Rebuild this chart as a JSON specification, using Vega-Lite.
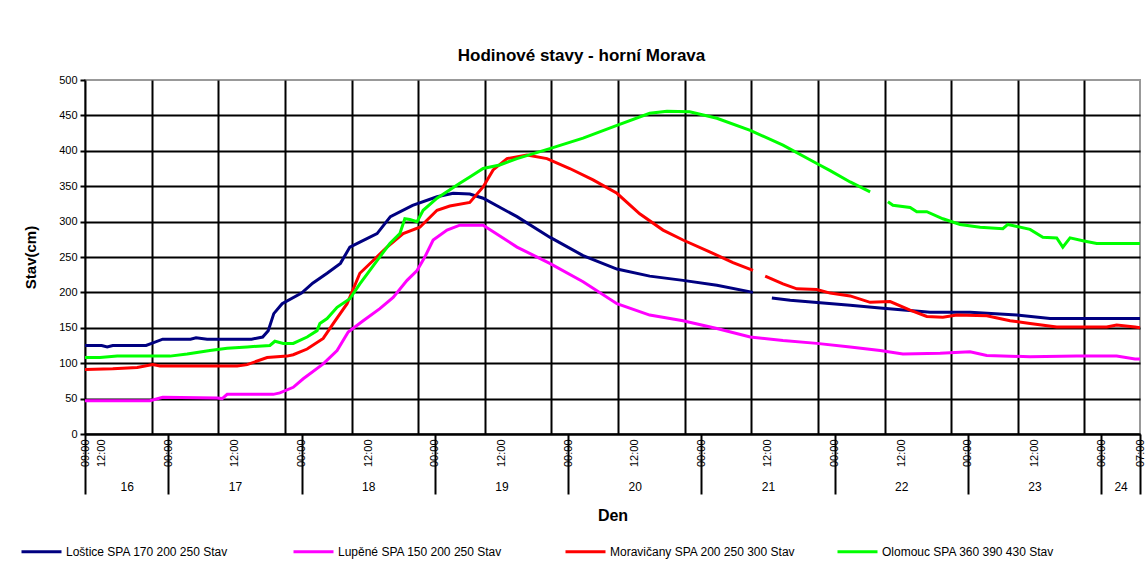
{
  "$schema": "https://vega.github.io/schema/vega-lite/v6.json",
  "width": 1055,
  "height": 354,
  "autosize": {"type": "none"},
  "padding": {"left": 85, "top": 80, "right": 7, "bottom": 149},
  "background": "white",
  "config": {
    "font": "Liberation Sans",
    "view": {"stroke": "#999999", "strokeWidth": 2},
    "axis": {"labelColor": "#000000", "titleColor": "#000000", "labelFont": "Liberation Sans", "titleFont": "Liberation Sans"}
  },
  "title": {"text": "Hodinové stavy - horní Morava", "font": "Liberation Sans", "fontSize": 17, "fontWeight": "bold", "color": "#000000", "anchor": "middle", "offset": 9, "dx": -31},
  "datasets": {
    "days": [
      {"day": "16", "mid": 16.5}, {"day": "17", "mid": 36}, {"day": "18", "mid": 60},
      {"day": "19", "mid": 84}, {"day": "20", "mid": 108}, {"day": "21", "mid": 132},
      {"day": "22", "mid": 156}, {"day": "23", "mid": 180}, {"day": "24", "mid": 195.5}
    ],
    "levels": [
      {"s": "Loštice SPA 170 200 250 Stav", "t": 9, "v": 125},
      {"s": "Loštice SPA 170 200 250 Stav", "t": 12, "v": 125},
      {"s": "Loštice SPA 170 200 250 Stav", "t": 13, "v": 123},
      {"s": "Loštice SPA 170 200 250 Stav", "t": 14, "v": 125},
      {"s": "Loštice SPA 170 200 250 Stav", "t": 20, "v": 125},
      {"s": "Loštice SPA 170 200 250 Stav", "t": 21, "v": 128},
      {"s": "Loštice SPA 170 200 250 Stav", "t": 23, "v": 134},
      {"s": "Loštice SPA 170 200 250 Stav", "t": 28, "v": 134},
      {"s": "Loštice SPA 170 200 250 Stav", "t": 29, "v": 136},
      {"s": "Loštice SPA 170 200 250 Stav", "t": 31, "v": 134},
      {"s": "Loštice SPA 170 200 250 Stav", "t": 39, "v": 134},
      {"s": "Loštice SPA 170 200 250 Stav", "t": 41, "v": 137},
      {"s": "Loštice SPA 170 200 250 Stav", "t": 42, "v": 146},
      {"s": "Loštice SPA 170 200 250 Stav", "t": 43, "v": 170},
      {"s": "Loštice SPA 170 200 250 Stav", "t": 44.5, "v": 184},
      {"s": "Loštice SPA 170 200 250 Stav", "t": 48, "v": 199},
      {"s": "Loštice SPA 170 200 250 Stav", "t": 50, "v": 213},
      {"s": "Loštice SPA 170 200 250 Stav", "t": 52.6, "v": 227},
      {"s": "Loštice SPA 170 200 250 Stav", "t": 55, "v": 241},
      {"s": "Loštice SPA 170 200 250 Stav", "t": 56.7, "v": 264},
      {"s": "Loštice SPA 170 200 250 Stav", "t": 58.5, "v": 271},
      {"s": "Loštice SPA 170 200 250 Stav", "t": 61.6, "v": 283},
      {"s": "Loštice SPA 170 200 250 Stav", "t": 64, "v": 307},
      {"s": "Loštice SPA 170 200 250 Stav", "t": 68, "v": 323},
      {"s": "Loštice SPA 170 200 250 Stav", "t": 72.4, "v": 335},
      {"s": "Loštice SPA 170 200 250 Stav", "t": 75.3, "v": 340},
      {"s": "Loštice SPA 170 200 250 Stav", "t": 78.3, "v": 339},
      {"s": "Loštice SPA 170 200 250 Stav", "t": 80.7, "v": 333},
      {"s": "Loštice SPA 170 200 250 Stav", "t": 86.8, "v": 307},
      {"s": "Loštice SPA 170 200 250 Stav", "t": 92.7, "v": 278},
      {"s": "Loštice SPA 170 200 250 Stav", "t": 98.7, "v": 252},
      {"s": "Loštice SPA 170 200 250 Stav", "t": 104.8, "v": 233},
      {"s": "Loštice SPA 170 200 250 Stav", "t": 110.7, "v": 223},
      {"s": "Loštice SPA 170 200 250 Stav", "t": 116.7, "v": 217},
      {"s": "Loštice SPA 170 200 250 Stav", "t": 122.8, "v": 210},
      {"s": "Loštice SPA 170 200 250 Stav", "t": 129.3, "v": 200},
      {"s": "Loštice SPA 170 200 250 Stav", "t": 131, "v": null},
      {"s": "Loštice SPA 170 200 250 Stav", "t": 132.7, "v": 192},
      {"s": "Loštice SPA 170 200 250 Stav", "t": 136, "v": 189},
      {"s": "Loštice SPA 170 200 250 Stav", "t": 146.8, "v": 182},
      {"s": "Loštice SPA 170 200 250 Stav", "t": 152.2, "v": 178},
      {"s": "Loštice SPA 170 200 250 Stav", "t": 161.2, "v": 172},
      {"s": "Loštice SPA 170 200 250 Stav", "t": 168.4, "v": 172},
      {"s": "Loštice SPA 170 200 250 Stav", "t": 176.8, "v": 168},
      {"s": "Loštice SPA 170 200 250 Stav", "t": 182.8, "v": 163},
      {"s": "Loštice SPA 170 200 250 Stav", "t": 199, "v": 163},

      {"s": "Lupěné SPA 150 200 250 Stav", "t": 9, "v": 47},
      {"s": "Lupěné SPA 150 200 250 Stav", "t": 20.7, "v": 47},
      {"s": "Lupěné SPA 150 200 250 Stav", "t": 23, "v": 52},
      {"s": "Lupěné SPA 150 200 250 Stav", "t": 32.8, "v": 51},
      {"s": "Lupěné SPA 150 200 250 Stav", "t": 33.7, "v": 50},
      {"s": "Lupěné SPA 150 200 250 Stav", "t": 34.6, "v": 56},
      {"s": "Lupěné SPA 150 200 250 Stav", "t": 42.9, "v": 56},
      {"s": "Lupěné SPA 150 200 250 Stav", "t": 44.1, "v": 58},
      {"s": "Lupěné SPA 150 200 250 Stav", "t": 46.5, "v": 66},
      {"s": "Lupěné SPA 150 200 250 Stav", "t": 48.3, "v": 78},
      {"s": "Lupěné SPA 150 200 250 Stav", "t": 51.9, "v": 99},
      {"s": "Lupěné SPA 150 200 250 Stav", "t": 54.4, "v": 118},
      {"s": "Lupěné SPA 150 200 250 Stav", "t": 56.4, "v": 144},
      {"s": "Lupěné SPA 150 200 250 Stav", "t": 59.1, "v": 160},
      {"s": "Lupěné SPA 150 200 250 Stav", "t": 62.1, "v": 177},
      {"s": "Lupěné SPA 150 200 250 Stav", "t": 64.5, "v": 193},
      {"s": "Lupěné SPA 150 200 250 Stav", "t": 67, "v": 217},
      {"s": "Lupěné SPA 150 200 250 Stav", "t": 68.8, "v": 231},
      {"s": "Lupěné SPA 150 200 250 Stav", "t": 70.2, "v": 250},
      {"s": "Lupěné SPA 150 200 250 Stav", "t": 71.7, "v": 274},
      {"s": "Lupěné SPA 150 200 250 Stav", "t": 74.2, "v": 288},
      {"s": "Lupěné SPA 150 200 250 Stav", "t": 76.5, "v": 295},
      {"s": "Lupěné SPA 150 200 250 Stav", "t": 80.7, "v": 295},
      {"s": "Lupěné SPA 150 200 250 Stav", "t": 86.8, "v": 264},
      {"s": "Lupěné SPA 150 200 250 Stav", "t": 92.7, "v": 241},
      {"s": "Lupěné SPA 150 200 250 Stav", "t": 98.7, "v": 215},
      {"s": "Lupěné SPA 150 200 250 Stav", "t": 104.8, "v": 184},
      {"s": "Lupěné SPA 150 200 250 Stav", "t": 110.7, "v": 168},
      {"s": "Lupěné SPA 150 200 250 Stav", "t": 116.7, "v": 160},
      {"s": "Lupěné SPA 150 200 250 Stav", "t": 122.8, "v": 149},
      {"s": "Lupěné SPA 150 200 250 Stav", "t": 128.8, "v": 137},
      {"s": "Lupěné SPA 150 200 250 Stav", "t": 134.7, "v": 132},
      {"s": "Lupěné SPA 150 200 250 Stav", "t": 140.8, "v": 128},
      {"s": "Lupěné SPA 150 200 250 Stav", "t": 146.8, "v": 123},
      {"s": "Lupěné SPA 150 200 250 Stav", "t": 152.2, "v": 118},
      {"s": "Lupěné SPA 150 200 250 Stav", "t": 156.3, "v": 113},
      {"s": "Lupěné SPA 150 200 250 Stav", "t": 163, "v": 114},
      {"s": "Lupěné SPA 150 200 250 Stav", "t": 168.4, "v": 116},
      {"s": "Lupěné SPA 150 200 250 Stav", "t": 171.4, "v": 111},
      {"s": "Lupěné SPA 150 200 250 Stav", "t": 179.2, "v": 109},
      {"s": "Lupěné SPA 150 200 250 Stav", "t": 187.6, "v": 110},
      {"s": "Lupěné SPA 150 200 250 Stav", "t": 194.8, "v": 110},
      {"s": "Lupěné SPA 150 200 250 Stav", "t": 198.1, "v": 106},
      {"s": "Lupěné SPA 150 200 250 Stav", "t": 199, "v": 106},

      {"s": "Moravičany SPA 200 250 300 Stav", "t": 9, "v": 91},
      {"s": "Moravičany SPA 200 250 300 Stav", "t": 14, "v": 92},
      {"s": "Moravičany SPA 200 250 300 Stav", "t": 18.4, "v": 94},
      {"s": "Moravičany SPA 200 250 300 Stav", "t": 21.2, "v": 98},
      {"s": "Moravičany SPA 200 250 300 Stav", "t": 22.5, "v": 96},
      {"s": "Moravičany SPA 200 250 300 Stav", "t": 36.4, "v": 96},
      {"s": "Moravičany SPA 200 250 300 Stav", "t": 38.2, "v": 98},
      {"s": "Moravičany SPA 200 250 300 Stav", "t": 41.8, "v": 108},
      {"s": "Moravičany SPA 200 250 300 Stav", "t": 45.4, "v": 110},
      {"s": "Moravičany SPA 200 250 300 Stav", "t": 46.5, "v": 112},
      {"s": "Moravičany SPA 200 250 300 Stav", "t": 49, "v": 120},
      {"s": "Moravičany SPA 200 250 300 Stav", "t": 51.9, "v": 135},
      {"s": "Moravičany SPA 200 250 300 Stav", "t": 53.7, "v": 156},
      {"s": "Moravičany SPA 200 250 300 Stav", "t": 56.2, "v": 184},
      {"s": "Moravičany SPA 200 250 300 Stav", "t": 58.5, "v": 227},
      {"s": "Moravičany SPA 200 250 300 Stav", "t": 60.9, "v": 245},
      {"s": "Moravičany SPA 200 250 300 Stav", "t": 63.4, "v": 264},
      {"s": "Moravičany SPA 200 250 300 Stav", "t": 66.3, "v": 283},
      {"s": "Moravičany SPA 200 250 300 Stav", "t": 69.3, "v": 292},
      {"s": "Moravičany SPA 200 250 300 Stav", "t": 72.4, "v": 316},
      {"s": "Moravičany SPA 200 250 300 Stav", "t": 74.7, "v": 322},
      {"s": "Moravičany SPA 200 250 300 Stav", "t": 78.3, "v": 327},
      {"s": "Moravičany SPA 200 250 300 Stav", "t": 80.7, "v": 349},
      {"s": "Moravičany SPA 200 250 300 Stav", "t": 82.5, "v": 373},
      {"s": "Moravičany SPA 200 250 300 Stav", "t": 85, "v": 389},
      {"s": "Moravičany SPA 200 250 300 Stav", "t": 88.6, "v": 394},
      {"s": "Moravičany SPA 200 250 300 Stav", "t": 92.2, "v": 389},
      {"s": "Moravičany SPA 200 250 300 Stav", "t": 96.3, "v": 375},
      {"s": "Moravičany SPA 200 250 300 Stav", "t": 100.5, "v": 359},
      {"s": "Moravičany SPA 200 250 300 Stav", "t": 104.8, "v": 340},
      {"s": "Moravičany SPA 200 250 300 Stav", "t": 108.9, "v": 311},
      {"s": "Moravičany SPA 200 250 300 Stav", "t": 113.1, "v": 288},
      {"s": "Moravičany SPA 200 250 300 Stav", "t": 116.7, "v": 274},
      {"s": "Moravičany SPA 200 250 300 Stav", "t": 121.6, "v": 257},
      {"s": "Moravičany SPA 200 250 300 Stav", "t": 125.7, "v": 242},
      {"s": "Moravičany SPA 200 250 300 Stav", "t": 129.3, "v": 231},
      {"s": "Moravičany SPA 200 250 300 Stav", "t": 130.4, "v": null},
      {"s": "Moravičany SPA 200 250 300 Stav", "t": 131.5, "v": 223},
      {"s": "Moravičany SPA 200 250 300 Stav", "t": 134.7, "v": 212},
      {"s": "Moravičany SPA 200 250 300 Stav", "t": 137.2, "v": 205},
      {"s": "Moravičany SPA 200 250 300 Stav", "t": 140.8, "v": 204},
      {"s": "Moravičany SPA 200 250 300 Stav", "t": 143.2, "v": 199},
      {"s": "Moravičany SPA 200 250 300 Stav", "t": 146.8, "v": 195},
      {"s": "Moravičany SPA 200 250 300 Stav", "t": 150.4, "v": 186},
      {"s": "Moravičany SPA 200 250 300 Stav", "t": 154, "v": 187},
      {"s": "Moravičany SPA 200 250 300 Stav", "t": 157.6, "v": 175},
      {"s": "Moravičany SPA 200 250 300 Stav", "t": 160.6, "v": 166},
      {"s": "Moravičany SPA 200 250 300 Stav", "t": 163.5, "v": 165},
      {"s": "Moravičany SPA 200 250 300 Stav", "t": 166, "v": 168},
      {"s": "Moravičany SPA 200 250 300 Stav", "t": 171.4, "v": 167},
      {"s": "Moravičany SPA 200 250 300 Stav", "t": 175.6, "v": 160},
      {"s": "Moravičany SPA 200 250 300 Stav", "t": 179.2, "v": 156},
      {"s": "Moravičany SPA 200 250 300 Stav", "t": 184, "v": 151},
      {"s": "Moravičany SPA 200 250 300 Stav", "t": 193, "v": 151},
      {"s": "Moravičany SPA 200 250 300 Stav", "t": 194.8, "v": 154},
      {"s": "Moravičany SPA 200 250 300 Stav", "t": 198.1, "v": 151},
      {"s": "Moravičany SPA 200 250 300 Stav", "t": 199, "v": 150},

      {"s": "Olomouc SPA 360 390 430 Stav", "t": 9, "v": 108},
      {"s": "Olomouc SPA 360 390 430 Stav", "t": 11.7, "v": 108},
      {"s": "Olomouc SPA 360 390 430 Stav", "t": 14.8, "v": 110},
      {"s": "Olomouc SPA 360 390 430 Stav", "t": 24.3, "v": 110},
      {"s": "Olomouc SPA 360 390 430 Stav", "t": 27.4, "v": 113},
      {"s": "Olomouc SPA 360 390 430 Stav", "t": 31.5, "v": 118},
      {"s": "Olomouc SPA 360 390 430 Stav", "t": 34.6, "v": 121},
      {"s": "Olomouc SPA 360 390 430 Stav", "t": 38.2, "v": 123},
      {"s": "Olomouc SPA 360 390 430 Stav", "t": 42.3, "v": 125},
      {"s": "Olomouc SPA 360 390 430 Stav", "t": 43.2, "v": 131},
      {"s": "Olomouc SPA 360 390 430 Stav", "t": 44.7, "v": 128},
      {"s": "Olomouc SPA 360 390 430 Stav", "t": 46.5, "v": 128},
      {"s": "Olomouc SPA 360 390 430 Stav", "t": 49, "v": 137},
      {"s": "Olomouc SPA 360 390 430 Stav", "t": 50.8, "v": 146},
      {"s": "Olomouc SPA 360 390 430 Stav", "t": 51.3, "v": 156},
      {"s": "Olomouc SPA 360 390 430 Stav", "t": 52.6, "v": 163},
      {"s": "Olomouc SPA 360 390 430 Stav", "t": 54.4, "v": 179},
      {"s": "Olomouc SPA 360 390 430 Stav", "t": 56.7, "v": 191},
      {"s": "Olomouc SPA 360 390 430 Stav", "t": 58.5, "v": 212},
      {"s": "Olomouc SPA 360 390 430 Stav", "t": 61.6, "v": 245},
      {"s": "Olomouc SPA 360 390 430 Stav", "t": 63.9, "v": 269},
      {"s": "Olomouc SPA 360 390 430 Stav", "t": 65.7, "v": 283},
      {"s": "Olomouc SPA 360 390 430 Stav", "t": 66.6, "v": 304},
      {"s": "Olomouc SPA 360 390 430 Stav", "t": 67.5, "v": 303},
      {"s": "Olomouc SPA 360 390 430 Stav", "t": 68.8, "v": 300},
      {"s": "Olomouc SPA 360 390 430 Stav", "t": 69.9, "v": 316},
      {"s": "Olomouc SPA 360 390 430 Stav", "t": 72.4, "v": 333},
      {"s": "Olomouc SPA 360 390 430 Stav", "t": 76.5, "v": 354},
      {"s": "Olomouc SPA 360 390 430 Stav", "t": 78.3, "v": 363},
      {"s": "Olomouc SPA 360 390 430 Stav", "t": 80.7, "v": 375},
      {"s": "Olomouc SPA 360 390 430 Stav", "t": 83.7, "v": 380},
      {"s": "Olomouc SPA 360 390 430 Stav", "t": 86.8, "v": 389},
      {"s": "Olomouc SPA 360 390 430 Stav", "t": 92.7, "v": 403},
      {"s": "Olomouc SPA 360 390 430 Stav", "t": 98.7, "v": 418},
      {"s": "Olomouc SPA 360 390 430 Stav", "t": 104.8, "v": 436},
      {"s": "Olomouc SPA 360 390 430 Stav", "t": 110.7, "v": 453},
      {"s": "Olomouc SPA 360 390 430 Stav", "t": 113.8, "v": 456},
      {"s": "Olomouc SPA 360 390 430 Stav", "t": 117.9, "v": 455},
      {"s": "Olomouc SPA 360 390 430 Stav", "t": 122.8, "v": 446},
      {"s": "Olomouc SPA 360 390 430 Stav", "t": 128.8, "v": 429},
      {"s": "Olomouc SPA 360 390 430 Stav", "t": 134.7, "v": 408},
      {"s": "Olomouc SPA 360 390 430 Stav", "t": 140.8, "v": 382},
      {"s": "Olomouc SPA 360 390 430 Stav", "t": 143.2, "v": 372},
      {"s": "Olomouc SPA 360 390 430 Stav", "t": 146.8, "v": 356},
      {"s": "Olomouc SPA 360 390 430 Stav", "t": 150.4, "v": 342},
      {"s": "Olomouc SPA 360 390 430 Stav", "t": 152, "v": null},
      {"s": "Olomouc SPA 360 390 430 Stav", "t": 153.6, "v": 328},
      {"s": "Olomouc SPA 360 390 430 Stav", "t": 154.5, "v": 323},
      {"s": "Olomouc SPA 360 390 430 Stav", "t": 157.6, "v": 320},
      {"s": "Olomouc SPA 360 390 430 Stav", "t": 158.8, "v": 314},
      {"s": "Olomouc SPA 360 390 430 Stav", "t": 160.6, "v": 314},
      {"s": "Olomouc SPA 360 390 430 Stav", "t": 163.5, "v": 304},
      {"s": "Olomouc SPA 360 390 430 Stav", "t": 166.6, "v": 296},
      {"s": "Olomouc SPA 360 390 430 Stav", "t": 170.2, "v": 292},
      {"s": "Olomouc SPA 360 390 430 Stav", "t": 174.3, "v": 290},
      {"s": "Olomouc SPA 360 390 430 Stav", "t": 175.2, "v": 296},
      {"s": "Olomouc SPA 360 390 430 Stav", "t": 179.2, "v": 289},
      {"s": "Olomouc SPA 360 390 430 Stav", "t": 181.5, "v": 278},
      {"s": "Olomouc SPA 360 390 430 Stav", "t": 184, "v": 277},
      {"s": "Olomouc SPA 360 390 430 Stav", "t": 185.1, "v": 264},
      {"s": "Olomouc SPA 360 390 430 Stav", "t": 186.4, "v": 277},
      {"s": "Olomouc SPA 360 390 430 Stav", "t": 188.7, "v": 273},
      {"s": "Olomouc SPA 360 390 430 Stav", "t": 191.2, "v": 269},
      {"s": "Olomouc SPA 360 390 430 Stav", "t": 199, "v": 269}
    ]
  },
  "layer": [
    {
      "data": {"name": "days"},
      "mark": {"type": "rule", "opacity": 0},
      "encoding": {
        "x": {
          "field": "mid", "type": "quantitative",
          "scale": {"domain": [9, 199], "nice": false, "zero": false},
          "axis": {
            "orient": "bottom",
            "values": [16.5, 36, 60, 84, 108, 132, 156, 180, 195.5],
            "labelExpr": "datum.value < 20 ? '16' : datum.value > 190 ? '24' : toString(17 + (datum.value - 36) / 24)",
            "ticks": false, "domain": false, "grid": false,
            "labelPadding": 47, "labelFontSize": 12, "labelFlush": false, "labelOverlap": false,
            "title": "Den", "titleFontSize": 16, "titleFontWeight": "bold", "titlePadding": 15
          }
        }
      }
    },
    {
      "data": {"name": "days"},
      "mark": {"type": "rule", "opacity": 0},
      "encoding": {
        "x": {
          "field": "mid", "type": "quantitative",
          "scale": {"domain": [9, 199], "nice": false, "zero": false},
          "axis": {
            "orient": "bottom",
            "values": [9, 24, 48, 72, 96, 120, 144, 168, 192, 199],
            "labels": false, "domain": false, "grid": false, "title": null,
            "ticks": true, "tickSize": 60, "tickWidth": 2, "tickColor": "#000000"
          }
        }
      }
    },
    {
      "data": {"name": "levels"},
      "mark": {"type": "line", "strokeWidth": 3},
      "encoding": {
        "x": {
          "field": "t", "type": "quantitative",
          "scale": {"domain": [9, 199], "nice": false, "zero": false},
          "axis": {
            "orient": "bottom",
            "title": null,
            "values": [9, 12, 21, 24, 33, 36, 45, 48, 57, 60, 69, 72, 81, 84, 93, 96, 105, 108, 117, 120, 129, 132, 141, 144, 153, 156, 165, 168, 177, 180, 189, 192, 199],
            "labelExpr": "datum.value == 9 ? '09:00' : datum.value == 199 ? '07:00' : datum.value % 24 == 0 ? '00:00' : datum.value % 24 == 12 ? '12:00' : ''",
            "labelAngle": 270, "labelAlign": "right", "labelBaseline": "middle",
            "labelPadding": 5, "labelFontSize": 11, "labelFlush": false, "labelOverlap": false, "labelBound": false,
            "domain": true, "domainColor": "#000000", "domainWidth": 2,
            "ticks": false,
            "grid": true, "gridColor": "#000000", "gridWidth": 2,
            "gridOpacity": {"condition": {"test": "datum.value % 12 == 9 && datum.value > 9", "value": 1}, "value": 0}
          }
        },
        "y": {
          "field": "v", "type": "quantitative",
          "scale": {"domain": [0, 500], "nice": false},
          "axis": {
            "values": [0, 50, 100, 150, 200, 250, 300, 350, 400, 450, 500],
            "title": "Stav(cm)", "titleFontSize": 15, "titleFontWeight": "bold", "titlePadding": 20,
            "labelFontSize": 11, "labelPadding": 3,
            "domain": true, "domainColor": "#000000", "domainWidth": 2,
            "tickColor": "#000000", "tickWidth": 2, "tickSize": 5,
            "grid": true, "gridColor": "#000000", "gridWidth": 2,
            "gridOpacity": {"condition": {"test": "datum.value == 500", "value": 0}, "value": 1}
          }
        },
        "color": {
          "field": "s", "type": "nominal",
          "scale": {
            "domain": ["Loštice SPA 170 200 250 Stav", "Lupěné SPA 150 200 250 Stav", "Moravičany SPA 200 250 300 Stav", "Olomouc SPA 360 390 430 Stav"],
            "range": ["#000080", "#FF00FF", "#FF0000", "#00FF00"]
          },
          "legend": {
            "title": null, "orient": "none", "legendX": -65, "legendY": 450,
            "direction": "horizontal", "columns": 4, "columnPadding": 35, "gridAlign": "all",
            "symbolType": "stroke", "symbolSize": 1600, "symbolStrokeWidth": 3,
            "labelFontSize": 12, "labelColor": "#000000", "labelOffset": 3, "labelLimit": 300
          }
        }
      }
    }
  ],
  "resolve": {"axis": {"x": "independent"}}
}
